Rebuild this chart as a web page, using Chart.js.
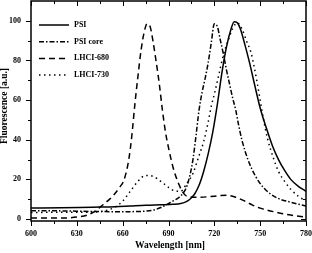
<!DOCTYPE html>
<html>
<head>
<meta charset="utf-8">
<script src="https://cdn.jsdelivr.net/npm/chart.js@4"></script>
<style>
  html, body { margin: 0; padding: 0; background: #fff; }
  #wrap { width: 312px; height: 253px; }
</style>
</head>
<body>
<div id="wrap"><canvas id="chart"></canvas></div>
<script>
// spectra (wavelength in nm, fluorescence in a.u.)
const psiNm  = [600, 620, 640, 655, 665, 675, 685, 693, 698, 701, 704, 707, 710, 713, 716, 719, 722, 725, 728, 731, 733, 735, 737, 740, 743, 746, 750, 754, 758, 762, 766, 770, 775, 780];
const psiVal = [5.5, 5.7, 6, 6.2, 6.6, 7, 7.2, 7.4, 7.8, 8.5, 10, 12.5, 17, 24, 33, 44, 58, 74, 87, 96, 99.5, 99, 96, 88, 79, 69, 56, 46, 37, 30, 24.5, 20, 16.5, 14];

const coreNm  = [600, 620, 640, 660, 675, 680, 685, 690, 694, 697, 700, 702, 704, 706, 708, 710, 712, 714, 716, 718, 720, 722, 724, 726, 728, 730, 732, 734, 736, 738, 742, 747, 752, 757, 763, 770, 780];
const coreVal = [4.2, 4.1, 3.8, 3.7, 4, 4.5, 5.8, 7.8, 9.5, 11, 13.5, 16.5, 22, 30, 42, 55, 64, 71, 79, 89, 98.5, 97, 90, 83, 75, 68, 61, 55, 47, 40, 30, 21.5, 16, 12.5, 10, 8.5, 6.5];

const l680Nm  = [600, 620, 630, 637, 642, 646, 650, 654, 658, 661, 664, 666, 668, 670, 672, 674, 676, 678, 680, 682, 684, 686, 688, 690, 693, 696, 699, 702, 710, 720, 728, 734, 740, 745, 750, 760, 770, 780];
const l680Val = [0.5, 0.5, 1, 2, 4, 6.5, 9, 12, 16, 20, 30, 42, 58, 72, 85, 94, 98.5, 97, 89, 79, 68, 55, 44, 36, 26, 19, 14, 11.5, 11, 11.5, 12, 11, 9, 7, 5.5, 3.5, 2, 1];

const l730Nm  = [600, 620, 640, 650, 655, 660, 665, 670, 675, 680, 685, 690, 695, 698, 702, 706, 710, 713, 716, 718, 720, 723, 726, 729, 732, 735, 738, 741, 744, 746, 748, 750, 752, 755, 759, 762, 766, 770, 775, 780];
const l730Val = [3.3, 3.4, 3.5, 4.5, 6, 9, 14, 19, 22, 21.5, 19, 16, 14, 14, 18, 23, 32, 39, 49, 57, 63, 73, 83, 90, 96, 99, 96, 90, 84, 77, 69, 60, 51, 40, 30, 24, 19, 15, 11.5, 9];

const seriesNames = ['PSI', 'PSI core', 'LHCI-680', 'LHCI-730'];
const xTickLabels = [600, 630, 660, 690, 720, 750, 780];
const yTickLabels = [0, 20, 40, 60, 80, 100];

const font = '"Liberation Serif", "Times New Roman", serif';

function pts(xs, ys) {
  return xs.map((x, i) => ({ x: x, y: ys[i] }));
}

function line(label, xs, ys, dash) {
  return {
    label: label,
    data: pts(xs, ys),
    borderColor: '#000',
    borderWidth: 1.5,
    borderDash: dash,
    pointRadius: 0,
    fill: false,
    cubicInterpolationMode: 'monotone',
  };
}

// frame, mirrored ticks, legend and axis titles
const decor = {
  id: 'decor',
  afterDraw(chart) {
    const { ctx, chartArea: a } = chart;
    const x = chart.scales.x, y = chart.scales.y;
    ctx.save();
    ctx.strokeStyle = '#000';
    ctx.lineWidth = 1;
    ctx.beginPath();
    for (let v = 600; v <= 780; v += 15) {
      const px = Math.round(x.getPixelForValue(v)) + 0.5;
      const len = v % 30 === 0 ? 5 : 3;
      ctx.moveTo(px, a.bottom); ctx.lineTo(px, a.bottom + len);
      ctx.moveTo(px, a.top); ctx.lineTo(px, a.top + len);
    }
    for (let v = 0; v <= 100; v += 10) {
      const py = Math.round(y.getPixelForValue(v)) + 0.5;
      const len = v % 20 === 0 ? 5 : 3;
      ctx.moveTo(a.left, py); ctx.lineTo(a.left - len, py);
      ctx.moveTo(a.right, py); ctx.lineTo(a.right - len, py);
    }
    ctx.stroke();
    ctx.lineWidth = 1.5;
    ctx.strokeRect(a.left, a.top, a.right - a.left, a.bottom - a.top);

    // legend
    ctx.font = 'bold 8px ' + font;
    ctx.fillStyle = '#000';
    ctx.textBaseline = 'middle';
    chart.data.datasets.forEach((ds, i) => {
      const ly = 25 + i * 16.7;
      ctx.lineWidth = 1.5;
      ctx.setLineDash(ds.borderDash || []);
      ctx.beginPath();
      ctx.moveTo(39, ly); ctx.lineTo(69, ly);
      ctx.stroke();
      ctx.setLineDash([]);
      ctx.fillText(ds.label, 74, ly);
    });

    // axis titles
    ctx.font = 'bold 9.5px ' + font;
    ctx.textAlign = 'center';
    ctx.fillText('Wavelength [nm]', 170, 246);
    ctx.translate(5, 106);
    ctx.rotate(-Math.PI / 2);
    ctx.fillText('Fluorescence [a.u.]', 0, 0);
    ctx.restore();
  }
};

new Chart(document.getElementById('chart'), {
  type: 'line',
  data: {
    datasets: [
      line(seriesNames[0], psiNm, psiVal, []),
      line(seriesNames[1], coreNm, coreVal, [5, 2, 1.5, 2]),
      line(seriesNames[2], l680Nm, l680Val, [6, 4]),
      line(seriesNames[3], l730Nm, l730Val, [1.5, 3.5]),
    ],
  },
  options: {
    responsive: true,
    maintainAspectRatio: false,
    animation: false,
    events: [],
    layout: { padding: { left: 0, top: 1, right: 6, bottom: 0 } },
    plugins: {
      legend: { display: false },
      tooltip: { enabled: false },
    },
    scales: {
      x: {
        type: 'linear',
        min: 600,
        max: 780,
        grid: { display: false, drawTicks: false, tickLength: 0 },
        border: { display: false },
        afterBuildTicks: s => { s.ticks = xTickLabels.map(v => ({ value: v })); },
        afterFit: s => { s.height = 32; s.paddingLeft = 0; s.paddingRight = 0; },
        ticks: {
          color: '#000',
          padding: 8,
          maxRotation: 0,
          font: { family: font, size: 8, weight: 'bold' },
        },
      },
      y: {
        min: -1,
        max: 110,
        grid: { display: false, drawTicks: false, tickLength: 0 },
        border: { display: false },
        afterBuildTicks: s => { s.ticks = yTickLabels.map(v => ({ value: v })); },
        afterFit: s => { s.width = 31; s.paddingTop = 0; s.paddingBottom = 0; },
        ticks: {
          color: '#000',
          padding: 10,
          font: { family: font, size: 8, weight: 'bold' },
        },
      },
    },
  },
  plugins: [decor],
});
</script>
</body>
</html>
